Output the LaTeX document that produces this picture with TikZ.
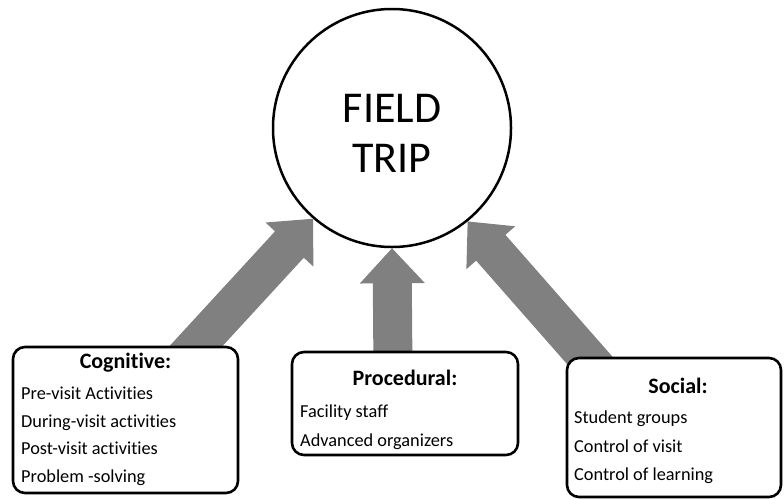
\documentclass[tikz,border=0pt]{standalone}
\usepackage{fontspec}
\setmainfont{Carlito}[Ligatures={NoCommon}]
\usetikzlibrary{calc,backgrounds}
\definecolor{arrowgray}{RGB}{128,128,128}
\newcommand\fatarrow[2]{%
  \coordinate (neck) at ($(#2)!35pt!(#1)$);
  \fill[arrowgray]
    ($(#1)!19.5pt!90:(#2)$) -- ($(neck)!19.5pt!-90:(#1)$) --
    ($(neck)!32.5pt!-90:(#1)$) -- (#2) --
    ($(neck)!32.5pt!90:(#1)$) -- ($(neck)!19.5pt!90:(#1)$) --
    ($(#1)!19.5pt!-90:(#2)$) -- cycle;}
\begin{document}
\begin{tikzpicture}[x=1pt,y=-1pt,
  box/.style={draw=black, line width=2.6pt, rounded corners=12pt, fill=white, inner sep=0pt},
  ttl/.style={anchor=base, font=\fontsize{22}{26}\selectfont\bfseries, inner sep=0pt},
  itm/.style={anchor=base west, font=\fontsize{18.3}{22}\selectfont, inner sep=0pt},
  big/.style={anchor=base, font=\fontsize{44}{50}\selectfont, inner sep=0pt}]
\useasboundingbox (0,0) rectangle (784,499);

% central circle
\node[draw=black, line width=2.5pt, circle, minimum size=238pt, inner sep=0pt, fill=white] (ft) at (392,128) {};
\node[big] (ftA) at (392,122) {FIELD};
\node[big] (ftB) at (392,172) {TRIP};

% boxes
\node[box, minimum width=225pt, minimum height=146pt] (cog) at (125.5,420) {};
\node[box, minimum width=226pt, minimum height=103pt] (proc) at (405,403.5) {};
\node[box, minimum width=214pt, minimum height=139pt] (soc) at (674,427.5) {};

% tails (hidden under boxes)
\coordinate (t1) at (174,370);
\coordinate (t2) at (393,370);
\coordinate (t3) at (607,380);

\begin{scope}[on background layer]
  \fill[white] (0,0) rectangle (784,499);
  \fatarrow{t1}{ft.229}
  \fatarrow{t2}{ft.270}
  \fatarrow{t3}{ft.309}
\end{scope}

% Cognitive
\node[ttl] (cogT) at (125.5,368) {Cognitive:};
\node[itm] (cog1) at (21,399) {Pre-visit Activities};
\node[itm] (cog2) at (21,427) {During-visit activities};
\node[itm] (cog3) at (21,454) {Post-visit activities};
\node[itm] (cog4) at (21,482) {Problem -solving};

% Procedural
\node[ttl] (procT) at (405,385) {Procedural:};
\node[itm] (proc1) at (300,417) {Facility staff};
\node[itm] (proc2) at (300,446) {Advanced organizers};

% Social
\node[ttl] (socT) at (678,393) {Social:};
\node[itm] (soc1) at (574,423) {Student groups};
\node[itm] (soc2) at (574,452) {Control of visit};
\node[itm] (soc3) at (574,480) {Control of learning};
\end{tikzpicture}
\end{document}
